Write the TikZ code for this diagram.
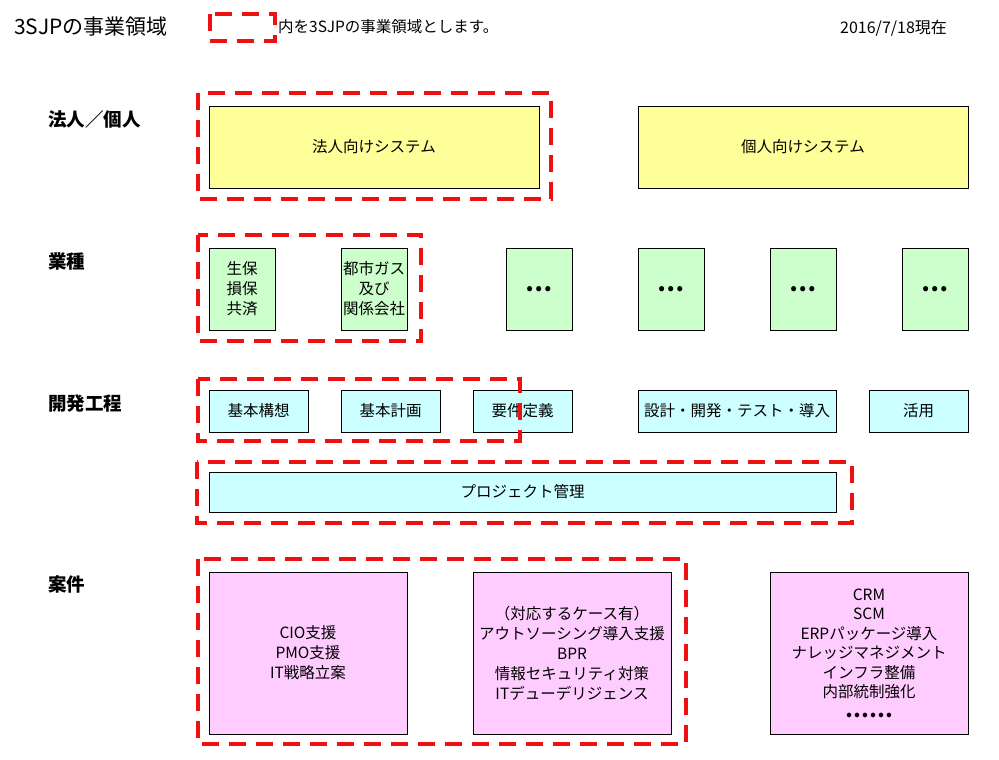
\documentclass[tikz,border=0pt]{standalone}
\usepackage{fontspec}
\setmainfont{Noto Sans CJK JP}
\definecolor{kiiro}{HTML}{FFFF99}
\definecolor{midori}{HTML}{CCFFCC}
\definecolor{mizu}{HTML}{CCFFFF}
\definecolor{momo}{HTML}{FFCCFF}
\definecolor{aka}{HTML}{EE1111}
\tikzset{
  waku/.style    = {draw=black, line width=0.8pt, align=center, inner sep=0pt,
                    font=\fontsize{15.5}{20}\selectfont},
  kiwaku/.style  = {waku, fill=kiiro, minimum width=330pt, minimum height=82pt},
  gyowaku/.style = {waku, fill=midori, minimum width=66pt, minimum height=82pt},
  kowaku/.style  = {waku, fill=mizu, minimum height=42pt},
  anwaku/.style  = {waku, fill=momo, minimum width=198pt, minimum height=162pt},
  ryoiki/.style  = {draw=aka, line width=4pt, dash pattern=on 17pt off 10pt},
  midashi/.style = {anchor=west, inner sep=0pt, font=\fontsize{18.5}{20}\selectfont\bfseries}
}

\begin{document}
\begin{tikzpicture}[x=1pt, y=-1pt]
  \useasboundingbox (0,0) rectangle (999,760);

  % title and legend
  \node[anchor=west, inner sep=0pt, font=\fontsize{21}{24}\selectfont] (title) at (14,27) {3SJPの事業領域};
  \draw[ryoiki] (210,14) rectangle (275,41);
  \node[anchor=west, inner sep=0pt, font=\fontsize{15.5}{18}\selectfont] (hanrei) at (278,27) {内を3SJPの事業領域とします。};
  \node[anchor=west, inner sep=0pt, font=\fontsize{16}{18}\selectfont] (hiduke) at (840,28) {2016/7/18現在};

  % row labels
  \node[midashi] (lbHojin) at (48,119) {法人／個人};
  \node[midashi] (lbGyoshu) at (48,261) {業種};
  \node[midashi] (lbKotei) at (48,404) {開発工程};
  \node[midashi] (lbAnken) at (48,584) {案件};

  % 法人／個人
  \node[kiwaku] (hojinSys) at (374,147) {法人向けシステム};
  \node[kiwaku] (kojinSys) at (803,147) {個人向けシステム};

  % 業種
  \node[gyowaku] (seiho) at (242,289) {生保\\損保\\共済};
  \node[gyowaku] (gas) at (374,289) {都市ガス\\及び\\関係会社};
  \foreach \x/\n in {539/a, 671/b, 803/c, 935/d}{
    \node[gyowaku, font=\fontsize{24}{20}\selectfont\bfseries] (gyo\n) at (\x,289) {…};
  }

  % 開発工程
  \node[kowaku, minimum width=99pt] (koso) at (258.5,411) {基本構想};
  \node[kowaku, minimum width=99pt] (keikaku) at (390.5,411) {基本計画};
  \node[kowaku, minimum width=99pt] (yoken) at (522.5,411) {要件定義};
  \node[kowaku, minimum width=198pt] (sekkei) at (737,411) {設計・開発・テスト・導入};
  \node[kowaku, minimum width=99pt] (katsuyo) at (918.5,411) {活用};
  \node[kowaku, minimum width=627pt, minimum height=40pt] (pm) at (522.5,492) {プロジェクト管理};

  % 案件
  \node[anwaku] (ankenA) at (308,653) {CIO支援\\PMO支援\\IT戦略立案};
  \node[anwaku] (ankenB) at (572,653) {（対応するケース有）\\アウトソーシング導入支援\\BPR\\情報セキュリティ対策\\ITデューデリジェンス};
  \node[anwaku, font=\fontsize{15.5}{19.5}\selectfont] (ankenC) at (869,653) {CRM\\SCM\\ERPパッケージ導入\\ナレッジマネジメント\\インフラ整備\\内部統制強化\\{\fontsize{21}{19.5}\selectfont\bfseries ……}};

  % 3SJP domain
  \draw[ryoiki] (198,93) rectangle (551,199);
  \draw[ryoiki] (198,235) rectangle (421,341);
  \draw[ryoiki] (198,379) rectangle (520,441);
  \draw[ryoiki] (197,462) rectangle (852,523);
  \draw[ryoiki] (198,559) rectangle (686,744);
\end{tikzpicture}
\end{document}
